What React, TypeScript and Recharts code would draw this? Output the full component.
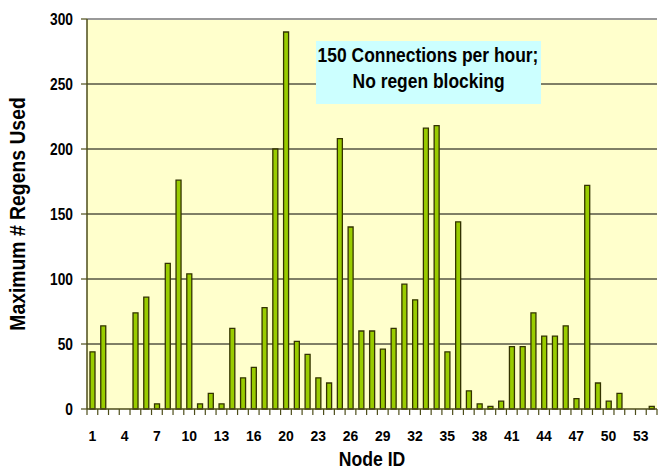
import { BarChart, Bar, XAxis, YAxis, CartesianGrid, ReferenceLine } from 'recharts';

const nodeIds = [
  1, 2, 3, 4, 5, 6, 7, 8, 9, 10, 11, 12, 13, 14, 15, 16, 17, 18,
  20, 21, 22, 23, 24, 25, 26, 27, 28, 29, 30, 31, 32, 33, 34, 35, 36, 37,
  38, 39, 40, 41, 42, 43, 44, 45, 46, 47, 48, 49, 50, 51, 52, 53, 54,
];

const maxRegens = [
  44, 64, 0, 0, 74, 86, 4, 112, 176, 104, 4, 12, 4, 62, 24, 32, 78, 200,
  290, 52, 42, 24, 20, 208, 140, 60, 60, 46, 62, 96, 84, 216, 218, 44, 144, 14,
  4, 2, 6, 48, 48, 74, 56, 56, 64, 8, 172, 20, 6, 12, 0, 0, 2,
];

const yTicks = [0, 50, 100, 150, 200, 250, 300];
const gridValues = [50, 100, 150, 200, 250];
const noteLines = ['150 Connections per hour;', 'No regen blocking'];

const data = nodeIds.map((id, i) => ({ node: String(id), regens: maxRegens[i] }));

const FONT = "'Liberation Sans', Arial, Helvetica, sans-serif";
const AXIS = '#4d4d1a';
const TICK_SIZE = 6;
const TICK_MARGIN = 15;

// squeezed bold text, the original uses a narrow helvetica
function NarrowText({ x, y, text, size, squeeze, anchor = 'middle', dy = '0', rotate = 0 }: any) {
  return (
    <text
      transform={`translate(${x},${y}) rotate(${rotate}) scale(${squeeze},1)`}
      textAnchor={anchor}
      dy={dy}
      fontFamily={FONT}
      fontWeight={700}
      fontSize={size}
      fill="#000"
    >
      {text}
    </text>
  );
}

function NodeTick(props: any) {
  const { x, y, payload, index } = props;
  const half = payload.offset ?? 5.4;
  const y0 = y - TICK_SIZE - TICK_MARGIN;
  return (
    <g>
      <line x1={x - half} x2={x - half} y1={y0} y2={y0 + TICK_SIZE} stroke={AXIS} strokeWidth={1.2} />
      {index === nodeIds.length - 1 && (
        <line x1={x + half} x2={x + half} y1={y0} y2={y0 + TICK_SIZE} stroke={AXIS} strokeWidth={1.2} />
      )}
      {index % 3 === 0 && (
        <NarrowText x={x} y={y} text={payload.value} size={15.5} squeeze={0.9} dy="0.71em" />
      )}
    </g>
  );
}

function RegenTick(props: any) {
  const { x, y, payload } = props;
  return <NarrowText x={x} y={y} text={payload.value} size={16} squeeze={0.86} anchor="end" dy="0.355em" />;
}

export default function App() {
  return (
    <div style={{ position: 'absolute', left: 0, top: 0, width: 659, height: 472, background: '#fff' }}>
      <BarChart
        width={659}
        height={472}
        data={data}
        margin={{ top: 19, right: 2, bottom: 0, left: 0 }}
      >
        <CartesianGrid
          vertical={false}
          horizontalValues={gridValues}
          stroke="#000"
          fill="#ffffcc"
          fillOpacity={1}
        />
        <XAxis
          dataKey="node"
          height={63}
          interval={0}
          tickLine={false}
          tickSize={TICK_SIZE}
          tickMargin={TICK_MARGIN}
          axisLine={{ stroke: AXIS, strokeWidth: 1.5 }}
          tick={<NodeTick />}
          label={{
            content: ({ viewBox }: any) => (
              <NarrowText
                x={viewBox.x + viewBox.width / 2}
                y={viewBox.y + viewBox.height - 6}
                text="Node ID"
                size={20}
                squeeze={0.88}
              />
            ),
          }}
        />
        <YAxis
          width={87}
          domain={[0, 300]}
          ticks={yTicks}
          interval={0}
          tickSize={6}
          tickMargin={8}
          axisLine={{ stroke: AXIS, strokeWidth: 1.5 }}
          tickLine={{ stroke: AXIS, strokeWidth: 1.2 }}
          tick={<RegenTick />}
          label={{
            content: ({ viewBox }: any) => (
              <NarrowText
                x={viewBox.x + 17}
                y={viewBox.y + viewBox.height / 2}
                text="Maximum # Regens Used"
                size={22}
                squeeze={0.88}
                rotate={-90}
                dy="0.355em"
              />
            ),
          }}
        />
        <ReferenceLine y={300} stroke="#999" strokeWidth={2} ifOverflow="visible" />
        <Bar
          dataKey="regens"
          barSize={5}
          fill="#99cc00"
          stroke="#333300"
          strokeWidth={1.3}
          isAnimationActive={false}
        />
      </BarChart>
      <div
        style={{
          position: 'absolute',
          left: 316,
          top: 41,
          width: 225,
          height: 63,
          background: '#ccffff',
          boxSizing: 'border-box',
          paddingTop: 1,
          display: 'flex',
          flexDirection: 'column',
          alignItems: 'center',
          fontFamily: FONT,
          fontWeight: 700,
          fontSize: 21,
          lineHeight: '26px',
          color: '#000',
        }}
      >
        {noteLines.map((t) => (
          <div key={t} style={{ whiteSpace: 'nowrap', transform: 'scaleX(0.83)' }}>
            {t}
          </div>
        ))}
      </div>
    </div>
  );
}
